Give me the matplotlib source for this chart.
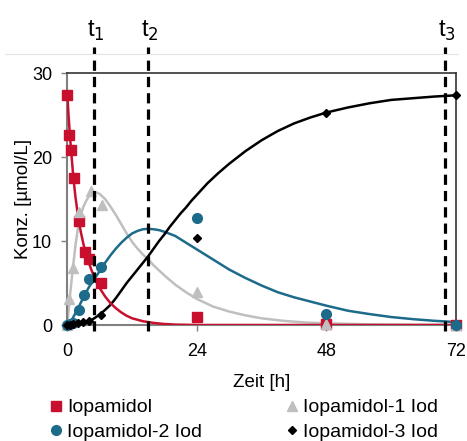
import matplotlib
matplotlib.use('Agg')
import matplotlib.pyplot as plt
from matplotlib.lines import Line2D

plt.rcParams['font.family'] = ['Liberation Sans', 'DejaVu Sans']

# measured points
t_iop = [0, 0.4, 0.7, 1.2, 2.2, 3.2, 4.0, 6.3, 24, 48, 72]
c_iop = [27.4, 22.6, 20.8, 17.5, 12.4, 8.7, 7.9, 5.0, 1.0, 0.1, 0.0]

t_i1 = [0, 0.3, 1.0, 2.2, 4.4, 6.4, 24, 48, 72]
c_i1 = [0, 3.1, 6.8, 13.4, 15.9, 14.3, 3.9, 0.1, 0.0]

t_i2 = [0, 0.5, 1.0, 2.1, 3.1, 4.1, 6.3, 24, 48, 72]
c_i2 = [0, 0.1, 0.2, 1.8, 3.6, 5.5, 6.9, 12.8, 1.3, 0.0]

t_i3 = [0, 0.5, 1.0, 2.0, 3.0, 4.0, 6.3, 24, 48, 72]
c_i3 = [0, 0.0, 0.1, 0.2, 0.3, 0.5, 1.2, 10.4, 25.3, 27.4]

# fitted model curves
tf_iop = [0, 0.25, 0.5, 0.75, 1, 1.25, 1.5, 2, 2.5, 3, 3.5, 4, 4.5, 5, 5.5, 6, 7, 8, 9, 10,
          11, 12, 14, 16, 18, 20, 24, 72]
cf_iop = [27.4, 24.8, 22.5, 20.4, 18.5, 16.8, 15.3, 12.9, 11.1, 9.6, 8.4, 7.4, 6.5, 5.7, 5.0,
          4.4, 3.4, 2.6, 2.0, 1.5, 1.1, 0.8, 0.45, 0.25, 0.12, 0.05, 0.0, 0.0]

tf_i1 = [0, 0.5, 1, 1.5, 2, 2.5, 3, 3.5, 4, 4.5, 5, 5.5, 6, 7, 8, 9, 10, 11, 12, 13, 14, 15,
         16, 18, 20, 22, 24, 27, 30, 33, 36, 40, 44, 48, 56, 64, 72]
cf_i1 = [0, 3.5, 6.6, 9.4, 11.7, 13.1, 14.1, 14.8, 15.3, 15.65, 15.8, 15.75, 15.6, 15.0, 14.1,
         13.1, 12.0, 10.9, 9.9, 9.1, 8.4, 7.8, 7.1, 5.9, 4.8, 3.9, 3.1, 2.2, 1.6, 1.15, 0.8,
         0.5, 0.3, 0.2, 0.08, 0.03, 0.01]

tf_i2 = [0, 1, 2, 3, 4, 5, 6, 7, 8, 9, 10, 11, 12, 13, 14, 15, 16, 17, 18, 20, 22, 24, 27, 30,
         33, 36, 39, 42, 45, 48, 52, 56, 60, 64, 68, 72]
cf_i2 = [0, 0.8, 2.0, 3.3, 4.5, 5.5, 6.4, 7.4, 8.3, 9.1, 9.8, 10.4, 10.9, 11.2, 11.4, 11.45,
         11.4, 11.3, 11.1, 10.6, 9.8, 9.0, 7.8, 6.6, 5.6, 4.7, 3.9, 3.3, 2.8, 2.3, 1.7, 1.3,
         0.95, 0.7, 0.5, 0.35]

tf_i3 = [0, 2, 3, 4, 5, 6, 7, 8, 9, 10, 11, 12, 13, 14, 15, 16, 17, 18, 19, 20, 21, 22, 23, 24,
         26, 28, 30, 33, 36, 39, 42, 45, 48, 52, 56, 60, 64, 68, 72]
cf_i3 = [0, 0.1, 0.2, 0.45, 0.8, 1.25, 1.8, 2.4, 3.2, 4.1, 5.0, 5.8, 6.6, 7.4, 8.2, 9.1, 10.0,
         10.8, 11.7, 12.5, 13.3, 14.0, 14.8, 15.5, 16.9, 18.1, 19.2, 20.7, 22.0, 23.1, 24.0,
         24.7, 25.3, 25.9, 26.4, 26.8, 27.0, 27.2, 27.35]

t_marks = [5, 15, 70]
t_names = ['t$_1$', 't$_2$', 't$_3$']

labels = ['Iopamidol', 'Iopamidol-1 Iod', 'Iopamidol-2 Iod', 'Iopamidol-3 Iod']
red = '#C8102E'
grey = '#BFBFBF'
blue = '#1D6B8A'

fig = plt.figure(figsize=(4.67, 4.41), dpi=100)
ax = fig.add_axes([0.1441, 0.263, 0.8323, 0.5714])

ax.plot(tf_iop, cf_iop, color=red, lw=1.8, zorder=3)
ax.plot(tf_i1, cf_i1, color=grey, lw=1.8, zorder=2)
ax.plot(tf_i2, cf_i2, color=blue, lw=1.8, zorder=2)
ax.plot(tf_i3, cf_i3, color='black', lw=1.8, zorder=2)

h1, = ax.plot(t_iop, c_iop, 's', color=red, ms=6.5, ls='none', zorder=4, clip_on=False)
h2, = ax.plot(t_i1, c_i1, '^', color=grey, ms=7, ls='none', zorder=4, clip_on=False)
h3, = ax.plot(t_i2, c_i2, 'o', color=blue, ms=7, ls='none', zorder=4, clip_on=False)
h4, = ax.plot(t_i3, c_i3, 'D', color='black', ms=4.5, ls='none', zorder=5, clip_on=False)

for tm, nm in zip(t_marks, t_names):
    ax.plot([tm, tm], [-0.7, 33.1], color='black', lw=2.3, clip_on=False,
            dashes=[3.2, 1.9], zorder=6)
    ax.text(tm + 0.3, 33.6, nm, ha='center', va='bottom', fontsize=17)

ax.set_xlim(0, 72)
ax.set_ylim(0, 30)
ax.set_xticks([0, 24, 48, 72])
ax.set_yticks([0, 10, 20, 30])
ax.tick_params(labelsize=13, length=4, color='#808080', width=1)
ax.tick_params(axis='x', pad=9)
ax.tick_params(axis='y', pad=7)
for s in ['left', 'bottom']:
    ax.spines[s].set_color('#808080')
    ax.spines[s].set_linewidth(1.5)
for s in ['top', 'right']:
    ax.spines[s].set_color('#333333')
    ax.spines[s].set_linewidth(1.2)

ax.set_xlabel('Zeit [h]', fontsize=13.5, labelpad=10)
ax.set_ylabel('Konz. [µmol/L]', fontsize=13.5, labelpad=0)

fig.add_artist(Line2D([5 / 467, 458 / 467], [1 - 54 / 441] * 2, color='#E3E3E3', lw=0.8))

leg = fig.legend([h1, h3, h2, h4], [labels[0], labels[2], labels[1], labels[3]],
                 ncol=2, loc='upper left', bbox_to_anchor=(0.09, 0.1134),
                 frameon=False, fontsize=14, handlelength=0.6, handletextpad=0.3,
                 columnspacing=4.3, labelspacing=0.37, borderaxespad=0)

fig.savefig('out.png', dpi=100)
